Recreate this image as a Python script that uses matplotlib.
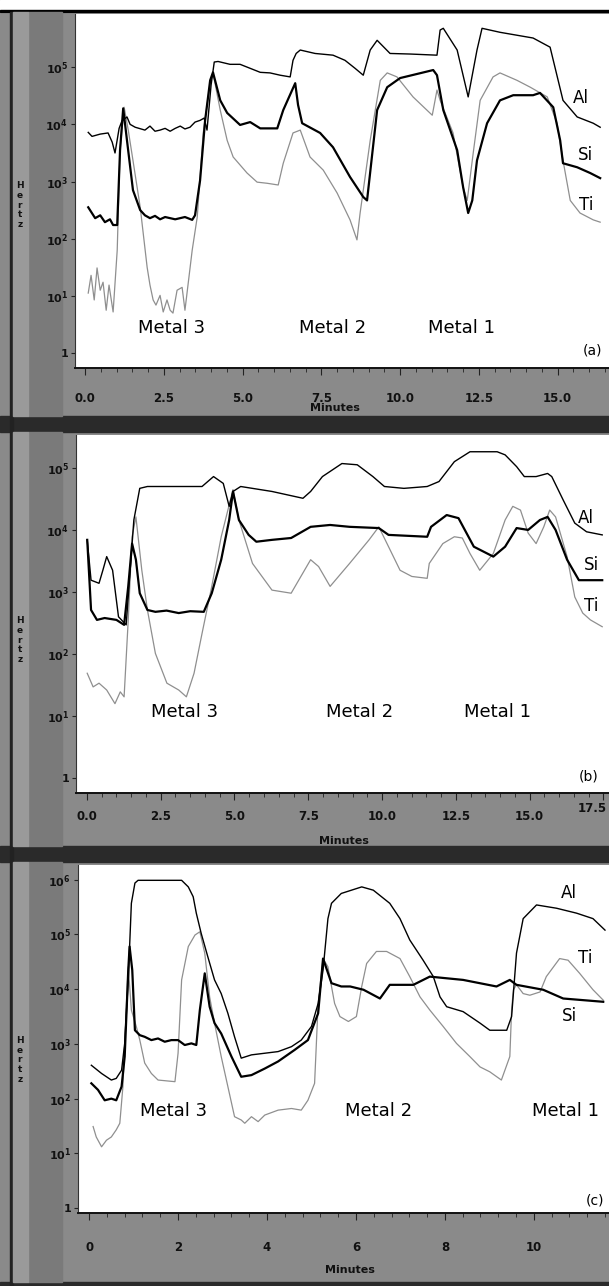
import numpy as np
import matplotlib
matplotlib.use('Agg')
from matplotlib import pyplot as plt
from matplotlib.patches import Rectangle

# 时间(分钟) 与 log10(强度)
# ---- (a) ----
a_al_t = [0.10, 0.22, 0.48, 0.73, 0.86, 0.95, 1.08, 1.17, 1.33, 1.43, 1.59, 1.90, 2.06, 2.22, 2.38, 2.54, 2.70,
          2.86, 3.02, 3.17, 3.33, 3.49, 3.65, 3.78, 3.87, 4.00, 4.10, 4.22, 4.60, 4.92, 5.24, 5.56, 5.87, 6.19,
          6.51, 6.60, 6.70, 6.83, 7.30, 7.87, 8.25, 8.57, 8.83, 9.05, 9.27, 9.68, 10.32, 11.17, 11.27, 11.37,
          11.81, 12.16, 12.44, 12.60, 13.17, 14.22, 14.76, 15.17, 15.62, 16.13, 16.35]
a_al_L = [3.86, 3.79, 3.83, 3.85, 3.69, 3.50, 3.93, 4.06, 4.13, 4.00, 3.95, 3.90, 3.97, 3.88, 3.90, 3.93, 3.88,
          3.93, 3.97, 3.92, 3.95, 4.04, 4.07, 4.11, 3.90, 4.69, 5.09, 5.10, 5.05, 5.05, 4.98, 4.91, 4.90, 4.86,
          4.83, 5.12, 5.24, 5.30, 5.24, 5.21, 5.12, 4.98, 4.86, 5.30, 5.47, 5.24, 5.23, 5.21, 5.65, 5.68,
          5.30, 4.48, 5.30, 5.68, 5.61, 5.51, 5.35, 4.42, 4.13, 4.02, 3.95]
a_si_t = [0.10, 0.32, 0.48, 0.63, 0.79, 0.89, 1.02, 1.11, 1.21, 1.33, 1.52, 1.75, 1.90, 2.06, 2.22, 2.38, 2.54,
          2.86, 3.17, 3.40, 3.49, 3.65, 3.81, 3.97, 4.06, 4.29, 4.51, 4.92, 5.24, 5.56, 5.78, 6.10, 6.29, 6.67,
          6.76, 6.89, 7.46, 7.87, 8.41, 8.83, 8.95, 9.27, 9.59, 10.00, 11.05, 11.17, 11.37, 11.81, 12.00, 12.16,
          12.29, 12.44, 12.76, 13.17, 13.59, 14.22, 14.44, 14.86, 15.08, 15.17, 15.62, 16.03, 16.35]
a_si_L = [2.55, 2.36, 2.41, 2.29, 2.34, 2.24, 2.24, 3.55, 4.28, 3.72, 2.85, 2.50, 2.41, 2.36, 2.40, 2.34, 2.38,
          2.34, 2.38, 2.33, 2.41, 3.02, 4.07, 4.77, 4.91, 4.42, 4.20, 3.99, 4.04, 3.93, 3.93, 3.93, 4.25, 4.72,
          4.34, 4.02, 3.85, 3.60, 3.08, 2.73, 2.67, 4.25, 4.65, 4.81, 4.95, 4.86, 4.25, 3.55, 2.90, 2.45,
          2.67, 3.37, 4.02, 4.42, 4.51, 4.51, 4.55, 4.30, 3.72, 3.32, 3.25, 3.15, 3.06]
a_ti_t = [0.10, 0.19, 0.29, 0.38, 0.48, 0.57, 0.67, 0.76, 0.89, 1.02, 1.11, 1.24, 1.37, 1.52, 1.75, 1.97, 2.06,
          2.16, 2.25, 2.38, 2.48, 2.60, 2.70, 2.79, 2.92, 3.08, 3.17, 3.40, 3.56, 3.75, 3.97, 4.06, 4.29, 4.51,
          4.70, 5.14, 5.46, 5.78, 6.13, 6.29, 6.60, 6.83, 7.14, 7.56, 8.00, 8.41, 8.63, 8.73, 9.05, 9.37, 9.59,
          9.90, 10.41, 11.02, 11.17, 11.27, 11.68, 12.00, 12.13, 12.32, 12.54, 12.95, 13.17, 13.71, 14.13,
          14.67, 14.98, 15.17, 15.40, 15.71, 16.13, 16.35]
a_ti_L = [1.05, 1.36, 0.93, 1.49, 1.10, 1.24, 0.75, 1.19, 0.72, 1.80, 3.55, 4.30, 3.90, 3.37, 2.55, 1.50, 1.19,
          0.93, 0.84, 1.01, 0.72, 0.93, 0.75, 0.70, 1.10, 1.15, 0.75, 1.80, 2.38, 3.85, 4.72, 4.90, 4.25, 3.72,
          3.43, 3.15, 2.99, 2.97, 2.94, 3.32, 3.85, 3.90, 3.43, 3.20, 2.80, 2.33, 1.98, 2.45, 3.72, 4.77, 4.90,
          4.83, 4.48, 4.16, 4.60, 4.42, 3.85, 2.90, 2.67, 3.50, 4.42, 4.83, 4.90, 4.77, 4.65,
          4.48, 4.02, 3.37, 2.67, 2.45, 2.33, 2.29]

# ---- (b) ----
b_al_t = [0.01, 0.14, 0.41, 0.54, 0.67, 0.87, 1.07, 1.33, 1.59, 1.79, 2.05, 3.90, 4.29, 4.62, 4.82, 4.95, 5.21,
          6.27, 7.32, 7.58, 7.98, 8.64, 9.16, 9.69, 10.08, 10.74, 11.53, 11.93, 12.45, 12.98, 13.90, 14.17,
          14.56, 14.82, 15.22, 15.61, 15.75, 16.14, 16.53, 16.93, 17.46]
b_al_L = [3.84, 3.19, 3.14, 3.35, 3.57, 3.35, 2.60, 2.47, 4.16, 4.67, 4.70, 4.70, 4.86, 4.75, 4.38, 4.62, 4.70,
          4.62, 4.51, 4.62, 4.86, 5.07, 5.05, 4.86, 4.70, 4.67, 4.70, 4.78, 5.10, 5.26, 5.26, 5.21,
          5.02, 4.86, 4.86, 4.91, 4.86, 4.48, 4.11, 3.97, 3.92]
b_si_t = [0.01, 0.14, 0.34, 0.60, 1.00, 1.26, 1.40, 1.53, 1.66, 1.79, 2.05, 2.32, 2.70, 3.11, 3.50, 3.96, 4.23,
          4.55, 4.82, 4.95, 5.15, 5.48, 5.74, 6.27, 6.92, 7.58, 8.24, 8.90, 9.89, 10.22, 11.53, 11.66, 12.19,
          12.59, 13.11, 13.77, 14.17, 14.56, 14.95, 15.35, 15.61, 15.88, 16.27, 16.67, 17.46]
b_si_L = [3.84, 2.71, 2.55, 2.58, 2.55, 2.47, 3.09, 3.78, 3.52, 2.98, 2.71, 2.68, 2.70, 2.66, 2.69, 2.68, 2.98,
          3.52, 4.16, 4.62, 4.16, 3.92, 3.81, 3.84, 3.87, 4.05, 4.08, 4.05, 4.03, 3.92, 3.89, 4.05, 4.24,
          4.19, 3.73, 3.57, 3.73, 4.03, 4.00, 4.16, 4.21, 4.00, 3.52, 3.19, 3.19]
b_ti_t = [0.01, 0.21, 0.41, 0.67, 0.95, 1.13, 1.26, 1.40, 1.53, 1.66, 1.86, 2.05, 2.32, 2.71, 3.11, 3.37, 3.63,
          3.90, 4.23, 4.55, 4.95, 5.15, 5.61, 6.27, 6.92, 7.25, 7.58, 7.85, 8.24, 8.90, 9.56, 9.89, 10.22,
          10.61, 11.01, 11.53, 11.60, 12.06, 12.45, 12.72, 12.98, 13.31, 13.77, 14.17, 14.43, 14.69, 14.95,
          15.22, 15.48, 15.68, 15.88, 16.27, 16.53, 16.80, 17.06, 17.46]
b_ti_L = [1.69, 1.47, 1.53, 1.42, 1.20, 1.39, 1.31, 2.55, 3.89, 4.21, 3.35, 2.71, 2.01, 1.53, 1.42, 1.31, 1.69,
          2.33, 3.09, 3.89, 4.65, 4.16, 3.46, 3.03, 2.98, 3.25, 3.52, 3.41, 3.09, 3.46, 3.84, 4.05, 3.73,
          3.35, 3.25, 3.22, 3.46, 3.78, 3.89, 3.87, 3.62, 3.35, 3.62, 4.16, 4.38, 4.32, 3.95,
          3.78, 4.05, 4.32, 4.21, 3.57, 2.92, 2.66, 2.55, 2.44]

# ---- (c) ----
c_al_t = [0.05, 0.28, 0.50, 0.61, 0.73, 0.80, 0.88, 0.95, 1.03, 1.10, 2.08, 2.23, 2.34, 2.41, 2.52, 2.67, 2.82,
          2.97, 3.12, 3.27, 3.42, 3.65, 3.95, 4.25, 4.55, 4.77, 5.00, 5.15, 5.26, 5.37, 5.45, 5.67, 6.13, 6.39,
          6.76, 6.99, 7.21, 7.51, 7.74, 7.89, 8.04, 8.41, 8.79, 9.01, 9.39, 9.50, 9.61, 9.76, 10.06, 10.51,
          10.96, 11.33, 11.60]
c_al_L = [2.61, 2.46, 2.34, 2.37, 2.52, 3.01, 4.17, 5.57, 5.94, 5.99, 5.99, 5.87, 5.69, 5.39, 5.02, 4.59, 4.17,
          3.92, 3.56, 3.13, 2.74, 2.80, 2.83, 2.86, 2.95, 3.07, 3.32, 3.74, 4.35, 5.29, 5.57, 5.75, 5.87, 5.81,
          5.57, 5.29, 4.90, 4.53, 4.23, 3.86, 3.68, 3.59, 3.38, 3.25, 3.25, 3.50, 4.66, 5.29, 5.54, 5.48,
          5.39, 5.29, 5.08]
c_si_t = [0.05, 0.20, 0.35, 0.50, 0.61, 0.73, 0.80, 0.88, 0.91, 0.97, 1.03, 1.14, 1.25, 1.40, 1.55, 1.70, 1.85,
          2.00, 2.15, 2.30, 2.41, 2.49, 2.60, 2.71, 2.82, 2.97, 3.20, 3.42, 3.65, 3.95, 4.25, 4.62, 4.92, 5.15,
          5.26, 5.45, 5.67, 5.87, 6.17, 6.54, 6.76, 7.29, 7.66, 8.41, 9.16, 9.46, 9.61, 10.21, 10.66, 11.11,
          11.56]
c_si_L = [2.28, 2.16, 1.97, 2.00, 1.97, 2.22, 2.77, 4.35, 4.78, 4.35, 3.25, 3.16, 3.13, 3.07, 3.10, 3.04, 3.07,
          3.07, 2.98, 3.01, 2.98, 3.62, 4.29, 3.68, 3.38, 3.19, 2.77, 2.40, 2.43, 2.55, 2.68, 2.89, 3.07, 3.56,
          4.56, 4.11, 4.05, 4.05, 3.99, 3.83, 4.08, 4.08, 4.23, 4.17, 4.05, 4.17, 4.08, 3.99, 3.83, 3.80,
          3.77]
c_ti_t = [0.09, 0.16, 0.28, 0.39, 0.50, 0.61, 0.69, 0.76, 0.84, 0.88, 0.95, 1.06, 1.14, 1.25, 1.40, 1.55, 1.93,
          2.00, 2.08, 2.23, 2.38, 2.49, 2.60, 2.71, 2.82, 2.97, 3.12, 3.27, 3.42, 3.50, 3.65, 3.80, 3.95, 4.25,
          4.55, 4.77, 4.92, 5.07, 5.15, 5.26, 5.37, 5.52, 5.64, 5.83, 6.01, 6.13, 6.24, 6.46, 6.69, 6.99, 7.21,
          7.44, 7.66, 7.96, 8.26, 8.56, 8.79, 9.01, 9.27, 9.46, 9.50, 9.54, 9.61, 9.76, 9.91, 10.14, 10.28,
          10.58, 10.77, 11.03, 11.33, 11.56]
c_ti_L = [1.49, 1.30, 1.12, 1.24, 1.30, 1.43, 1.55, 2.22, 3.74, 4.41, 3.62, 3.32, 3.07, 2.65, 2.46, 2.34, 2.31,
          2.83, 4.17, 4.78, 4.99, 5.05, 4.66, 3.86, 3.38, 2.77, 2.22, 1.67, 1.61, 1.55, 1.67, 1.58, 1.70, 1.79,
          1.82, 1.79, 1.97, 2.28, 3.74, 4.56, 4.41, 3.74, 3.50, 3.41, 3.50, 4.05, 4.47, 4.69, 4.69, 4.56, 4.23,
          3.86, 3.62, 3.32, 3.01, 2.77, 2.58, 2.49, 2.34, 2.77, 3.62, 3.99, 4.08, 3.92, 3.89, 3.95, 4.23,
          4.56, 4.53, 4.29, 3.99, 3.80]

W, H = 609, 1286
BG = '#8a8a8a'


def fx(x):
    return x / W


def fy(y):
    return 1 - y / H


def panel(fig, box, xlim, ylim, xticks, xlabels, decades, data, tickpad):
    left, top, bottom = box
    ax = fig.add_axes([fx(left), fy(bottom), 1 - fx(left), (bottom - top) / H])
    ax.set_facecolor('white')
    al, si, ti = data
    ax.plot(ti[0], 10 ** np.array(ti[1]), color='#8f8f8f', lw=0.9)
    ax.plot(al[0], 10 ** np.array(al[1]), color='black', lw=1.0)
    ax.plot(si[0], 10 ** np.array(si[1]), color='black', lw=1.6)
    ax.set_yscale('log')
    ax.set_xlim(*xlim)
    ax.set_ylim(10 ** ylim[0], 10 ** ylim[1])
    ax.set_xticks(xticks)
    ax.set_xticklabels(xlabels, fontsize=8.5, fontweight='bold', color='#111111')
    ax.xaxis.set_minor_locator(matplotlib.ticker.MultipleLocator((xticks[1] - xticks[0]) / 5))
    yt = [10.0 ** d for d in decades]
    ax.set_yticks(yt)
    ax.set_yticklabels(['1' if d == 0 else r'$\mathbf{10^{%d}}$' % d for d in decades],
                       fontsize=8, color='#111111', fontweight='bold')
    ax.yaxis.set_minor_locator(matplotlib.ticker.NullLocator())
    ax.tick_params(axis='x', which='major', direction='out', length=5, width=0.8, color='#222222', pad=tickpad)
    ax.tick_params(axis='x', which='minor', direction='out', length=3, width=0.6, color='#222222')
    ax.tick_params(axis='y', which='major', direction='out', length=3, width=0.8, color='#222222', pad=2)
    for s in ['top', 'right']:
        ax.spines[s].set_visible(False)
    ax.spines['left'].set_color('#333333')
    ax.spines['bottom'].set_color('#111111')
    ax.spines['bottom'].set_linewidth(1.4)
    return ax


def label(fig, x, y, s, size=13, ha='center'):
    fig.text(fx(x), fy(y), s, fontsize=size, ha=ha, va='center', family='DejaVu Sans', color='black')


def band(fig, x0, y0, w, h, color):
    fig.patches.append(Rectangle((fx(x0), fy(y0 + h)), w / W, h / H, transform=fig.transFigure,
                                 color=color, zorder=-1))


fig = plt.figure(figsize=(W / 100, H / 100), dpi=100, facecolor=BG)

# 背景条带
band(fig, 0, 0, W, 12, 'white')
band(fig, 0, 10, W, 2, 'black')
for y0, h in [(416, 16), (846, 16), (1282, 4)]:
    band(fig, 0, y0, W, h, '#2a2a2a')
band(fig, 10, 12, 3, H - 12, '#222222')
for y0, y1 in [(12, 416), (432, 846), (862, 1282)]:
    band(fig, 28, y0, 34, y1 - y0, '#7a7a7a')
    band(fig, 13, y0, 15, y1 - y0, '#9a9a9a')

ax_a = panel(fig, (75, 14, 368), (-0.32, 16.63), (-0.26, 5.93),
             [0, 2.5, 5, 7.5, 10, 12.5, 15], ['0.0', '2.5', '5.0', '7.5', '10.0', '12.5', '15.0'],
             [0, 1, 2, 3, 4, 5],
             ((a_al_t, a_al_L), (a_si_t, a_si_L), (a_ti_t, a_ti_L)), 12)
ax_b = panel(fig, (76, 435, 793), (-0.37, 17.69), (-0.24, 5.53),
             [0, 2.5, 5, 7.5, 10, 12.5, 15, 17.5],
             ['0.0', '2.5', '5.0', '7.5', '10.0', '12.5', '15.0', ''],
             [0, 1, 2, 3, 4, 5],
             ((b_al_t, b_al_L), (b_si_t, b_si_L), (b_ti_t, b_ti_L)), 7)
ax_c = panel(fig, (78, 865, 1213), (-0.25, 11.69), (-0.09, 6.27),
             [0, 2, 4, 6, 8, 10], ['0', '2', '4', '6', '8', '10'],
             [0, 1, 2, 3, 4, 5, 6],
             ((c_al_t, c_al_L), (c_si_t, c_si_L), (c_ti_t, c_ti_L)), 15)
# 右端 17.5 标签贴边
fig.text(fx(607), fy(808), '17.5', fontsize=8.5, fontweight='bold', ha='right', va='center', color='#111111')

# 文字标注
for (x, y, s) in [(172, 328, 'Metal 3'), (333, 328, 'Metal 2'), (462, 328, 'Metal 1'),
                  (185, 712, 'Metal 3'), (360, 712, 'Metal 2'), (498, 712, 'Metal 1'),
                  (174, 1111, 'Metal 3'), (379, 1111, 'Metal 2'), (566, 1111, 'Metal 1')]:
    label(fig, x, y, s, 13)
for (x, y, s) in [(581, 98, 'Al'), (585, 155, 'Si'), (586, 205, 'Ti'),
                  (586, 518, 'Al'), (591, 565, 'Si'), (591, 606, 'Ti'),
                  (569, 893, 'Al'), (585, 958, 'Ti'), (569, 1016, 'Si')]:
    label(fig, x, y, s, 12)
for (x, y, s) in [(592, 350, '(a)'), (589, 777, '(b)'), (595, 1200, '(c)')]:
    label(fig, x, y, s, 10)

for (x, y) in [(335, 408), (344, 841), (350, 1270)]:
    fig.text(fx(x), fy(y), 'Minutes', fontsize=8, fontweight='bold', ha='center', va='center', color='#111111')
for y in [205, 640, 1060]:
    fig.text(fx(20), fy(y), 'H\ne\nr\nt\nz', fontsize=6.5, fontweight='bold', ha='center', va='center',
             color='#111111', linespacing=1.1)

fig.savefig('out.png', dpi=100, facecolor=BG)
